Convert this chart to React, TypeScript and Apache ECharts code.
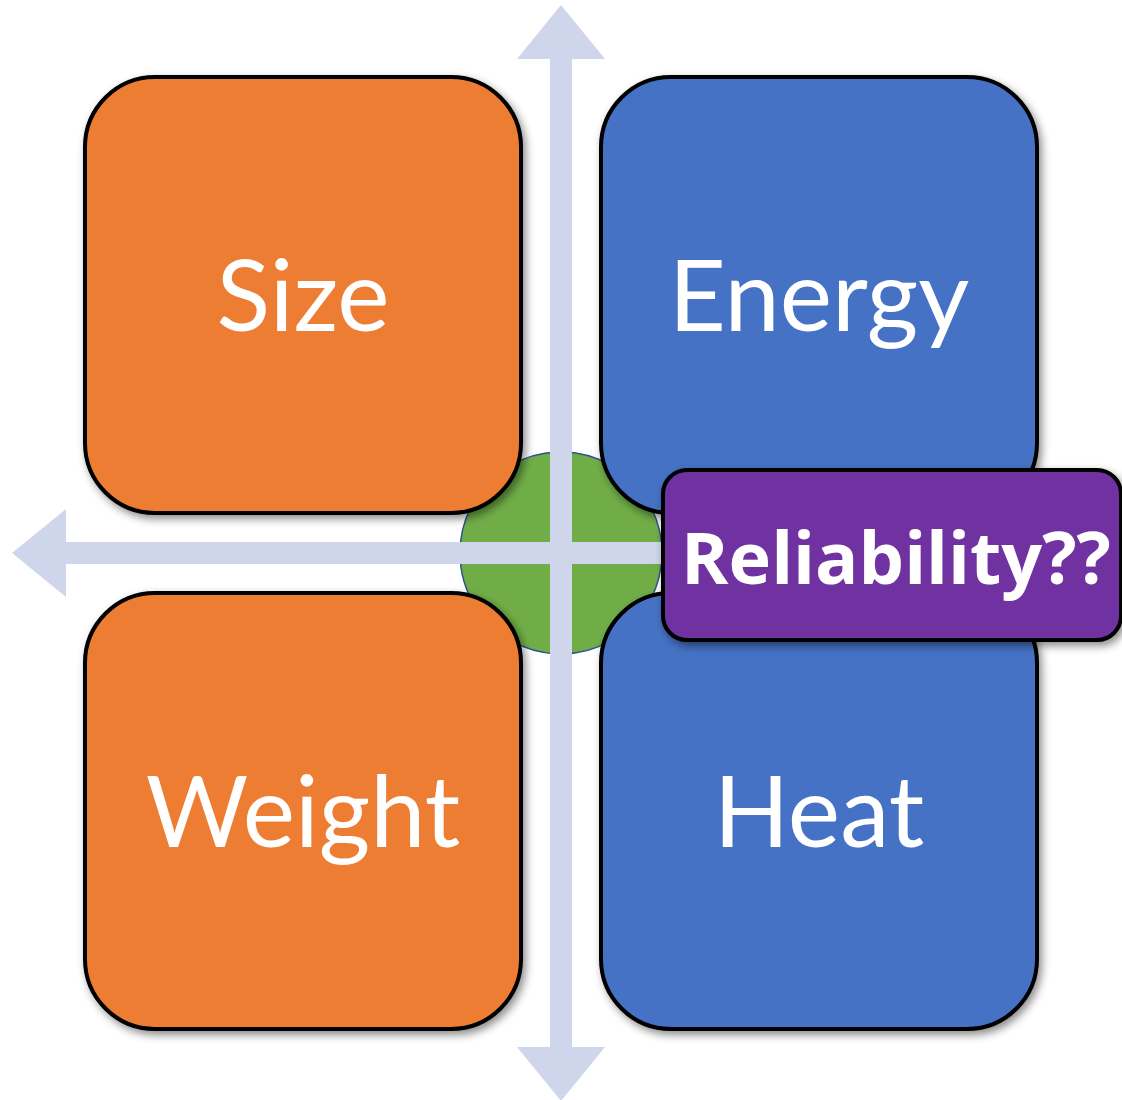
import React, { useEffect, useRef } from "react";
import * as echarts from "echarts";

// Quadrant labels, read row by row (top-left, top-right, bottom-left, bottom-right)
const quadrantLabels = ["Size", "Energy", "Weight", "Heat"];
const quadrantColors = ["#ed7d31", "#4472c4", "#ed7d31", "#4472c4"];
const centerLabel = "Reliability??";

const W = 1122;
const H = 1100;

export default function App() {
  const ref = useRef<HTMLDivElement>(null);

  useEffect(() => {
    if (!ref.current) return;
    document.body.style.margin = "0";
    const chart = echarts.init(ref.current, null, { renderer: "svg", width: W, height: H });

    const boxW = 436;
    const boxR = 70;
    const colX = [85, 601];
    const rowY = [77, 593];
    const cx = 561;
    const cy = 553;

    const shadow = {
      shadowBlur: 8,
      shadowOffsetX: 3,
      shadowOffsetY: 4,
      shadowColor: "rgba(0,0,0,0.45)",
    };

    const boxes: any[] = [];
    const labels: any[] = [];
    quadrantLabels.forEach((name, i) => {
      const x = colX[i % 2];
      const y = rowY[Math.floor(i / 2)];
      boxes.push({
        type: "rect",
        z: 2,
        shape: { x, y, width: boxW, height: boxW, r: boxR },
        style: { fill: quadrantColors[i], stroke: "#000", lineWidth: 4, ...shadow },
      });
      labels.push({
        type: "text",
        z: 5,
        x: x + boxW / 2,
        y: y + boxW / 2 - 3,
        style: {
          text: name,
          fill: "#ffffff",
          font: "400 99px Lato",
          textAlign: "center",
          textVerticalAlign: "middle",
        },
      });
    });

    const arrowColor = "#cfd5ea";
    const vArrow = [
      [cx, 5], [cx + 44, 59], [cx + 11, 59], [cx + 11, 1047], [cx + 44, 1047],
      [cx, 1101], [cx - 44, 1047], [cx - 11, 1047], [cx - 11, 59], [cx - 44, 59],
    ];
    const hArrow = [
      [12, cy], [66, cy - 44], [66, cy - 11], [720, cy - 11],
      [720, cy + 11], [66, cy + 11], [66, cy + 44],
    ];

    chart.setOption({
      animation: false,
      backgroundColor: "#ffffff",
      graphic: [
        {
          type: "circle",
          z: 1,
          shape: { cx, cy, r: 101 },
          style: { fill: "#70ad47", stroke: "#2f528f", lineWidth: 1.5 },
        },
        ...boxes,
        {
          type: "polygon",
          z: 3,
          shape: { points: vArrow },
          style: { fill: arrowColor },
        },
        {
          type: "polygon",
          z: 3,
          shape: { points: hArrow },
          style: { fill: arrowColor },
        },
        {
          type: "rect",
          z: 4,
          shape: { x: 663, y: 470, width: 458, height: 170, r: 24 },
          style: { fill: "#7030a0", stroke: "#000", lineWidth: 4, ...shadow },
        },
        {
          type: "text",
          z: 6,
          x: 896,
          y: 556,
          style: {
            text: centerLabel,
            fill: "#ffffff",
            font: "700 72px 'Open Sans'",
            textAlign: "center",
            textVerticalAlign: "middle",
          },
        },
        ...labels,
      ],
    });

    return () => chart.dispose();
  }, []);

  return (
    <div
      ref={ref}
      style={{ position: "absolute", left: 0, top: 0, width: W, height: H }}
    />
  );
}
